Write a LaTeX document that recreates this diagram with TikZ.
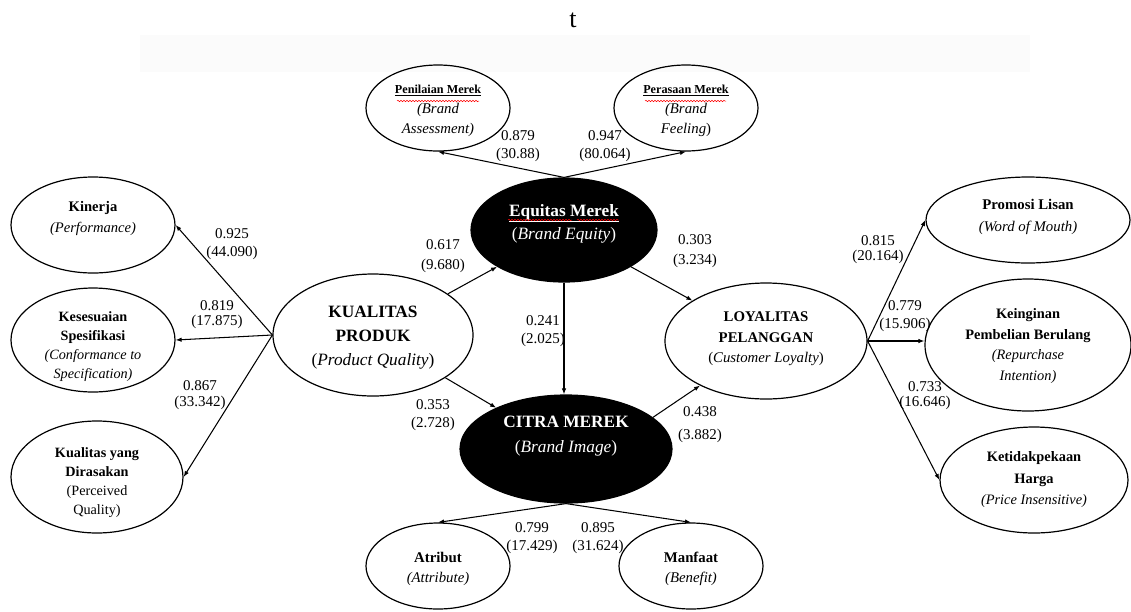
\documentclass[tikz,border=0pt]{standalone}
\usepackage{fontspec}
\setmainfont{Liberation Serif}
\usetikzlibrary{arrows.meta,shapes.geometric,decorations.pathmorphing}
\newcommand{\fs}[2]{\fontsize{#1}{#2}\selectfont}
\begin{document}
\begin{tikzpicture}[x=1pt,y=-1pt,
  oval/.style={ellipse,draw=black,line width=1.2pt,inner sep=0pt},
  dark/.style={oval,fill=black},
  txt/.style={align=center,inner sep=0pt},
  arr/.style={-{Latex[length=6pt,width=4.5pt]},line width=1.05pt},
  num/.style={align=center,inner sep=0pt,font=\fs{15}{18}},
  wavy/.style={red,line width=0.5pt,decorate,decoration={snake,amplitude=0.7pt,segment length=3pt}}]
\useasboundingbox (0,0) rectangle (1131,611);
\fill[black!1.5] (140,35) rectangle (1030,72);
\node[inner sep=0pt,font=\fs{26}{30}] (t) at (573,20) {t};

% top
\node[oval,minimum width=144,minimum height=86] (pen) at (438,108) {};
\node[txt,font=\fs{14.8}{20}] (pent) at ([yshift=-3]pen.center) {{\fs{12.2}{20}\textbf{\underline{Penilaian Merek}}}\\\textit{(Brand}\\\textit{Assessment)}};
\node[oval,minimum width=144,minimum height=86] (per) at (686,108) {};
\node[txt,font=\fs{14.8}{20}] (pert) at ([yshift=-3]per.center) {{\fs{12.2}{20}\textbf{\underline{Perasaan Merek}}}\\\textit{(Brand}\\\textit{Feeling})};

% center
\node[dark,minimum width=186,minimum height=104] (eq) at (564,230) {};
\node[txt,text=white,font=\fs{17.3}{23}] (eqt) at ([yshift=6.5]eq.center) {\textbf{\underline{Equitas Merek}}\\(\textit{Brand Equity})};
\node[dark,minimum width=212,minimum height=108] (ci) at (566,449) {};
\node[txt,text=white,font=\fs{17.3}{25}] (cit) at ([yshift=13]ci.center) {\textbf{CITRA MEREK}\\(\textit{Brand Image})};
\node[oval,minimum width=200,minimum height=122] (kp) at (373,335) {};
\node[txt,font=\fs{17.3}{24}] (kpt) at ([yshift=-3]kp.center) {\textbf{KUALITAS}\\\textbf{PRODUK}\\(\textit{Product Quality})};
\node[oval,minimum width=202,minimum height=116] (loy) at (766,341) {};
\node[txt,font=\fs{14.8}{20.5}] (loyt) at ([yshift=2]loy.center) {\textbf{LOYALITAS}\\\textbf{PELANGGAN}\\(\textit{Customer Loyalty})};

% left
\node[oval,minimum width=164,minimum height=96] (kin) at (93,225) {};
\node[txt,font=\fs{14.6}{21}] (kint) at ([yshift=6.5]kin.center) {\textbf{Kinerja}\\\textit{(Performance)}};
\node[oval,minimum width=164,minimum height=104] (kes) at (93,340) {};
\node[txt,font=\fs{14.2}{19}] (kest) at ([yshift=-7]kes.center) {\textbf{Kesesuaian}\\\textbf{Spesifikasi}\\\textit{(Conformance to}\\\textit{Specification)}};
\node[oval,minimum width=172,minimum height=112] (kyd) at (97,477) {};
\node[txt,font=\fs{14.2}{19}] (kydt) at ([yshift=-5.5]kyd.center) {\textbf{Kualitas yang}\\\textbf{Dirasakan}\\(Perceived\\Quality)};

% right
\node[oval,minimum width=204,minimum height=86] (pro) at (1028,220) {};
\node[txt,font=\fs{14.8}{22}] (prot) at ([yshift=3]pro.center) {\textbf{Promosi Lisan}\\\textit{(Word of Mouth)}};
\node[oval,minimum width=206,minimum height=132] (kei) at (1028,345) {};
\node[txt,font=\fs{14.4}{20.5}] (keit) at ([yshift=-1]kei.center) {\textbf{Keinginan}\\\textbf{Pembelian Berulang}\\\textit{(Repurchase}\\\textit{Intention)}};
\node[oval,minimum width=188,minimum height=106] (ket) at (1034,480) {};
\node[txt,font=\fs{14.4}{21.5}] (kett) at (ket) {\textbf{Ketidakpekaan}\\\textbf{Harga}\\\textit{(Price Insensitive)}};

% bottom
\node[oval,minimum width=144,minimum height=86] (atr) at (438,566) {};
\node[txt,font=\fs{14.8}{20}] (atrt) at ([yshift=-3]atr.center) {\textbf{Atribut}\\\textit{(Attribute)}};
\node[oval,minimum width=144,minimum height=86] (man) at (691,566) {};
\node[txt,font=\fs{14.8}{20}] (mant) at ([yshift=-3]man.center) {\textbf{Manfaat}\\\textit{(Benefit)}};

% spell-check underlines
\draw[wavy] (397,101) -- (479,101);
\draw[wavy] (645,101) -- (726,101);
\draw[wavy] (508,220) -- (572,220);
\draw[wavy] (577,220) -- (619,220);

% connectors
\draw[arr] (eq.north) -- (pen.south);
\draw[arr] (eq.north) -- (per.south);
\draw[arr] (kp) -- (eq);
\draw[arr] (kp) -- (ci);
\draw[arr] (eq.south) -- (eq.south |- ci.north);
\draw[arr] (eq) -- (loy);
\draw[arr] (ci.20) -- (loy);
\draw[arr] (kp.west) -- (kin.east);
\draw[arr] (kp.west) -- (kes.east);
\draw[arr] (kp.west) -- (kyd.east);
\draw[arr] (loy.east) -- (pro.west);
\draw[arr] (loy.east) -- (loy.east -| kei.west);
\draw[arr] (loy.east) -- (ket.west);
\draw[arr] (ci.south) -- (atr.north);
\draw[arr] (ci.south) -- (man.north);

% labels
\node[num] (l879) at (518,146) {0.879\\(30.88)};
\node[num] (l947) at (605,146) {0.947\\(80.064)};
\node[num] (l925) at (232,244) {0.925\\(44.090)};
\node[num,font=\fs{15}{15}] (l819) at (217,315) {0.819\\(17.875)};
\node[num,font=\fs{15}{16}] (l867) at (200,395) {0.867\\(33.342)};
\node[num,font=\fs{15}{20}] (l617) at (443,256) {0.617\\(9.680)};
\node[num,font=\fs{15}{20}] (l303) at (695,251) {0.303\\(3.234)};
\node[num] (l241) at (543,331) {0.241\\(2.025)};
\node[num] (l353) at (433,415) {0.353\\(2.728)};
\node[num,font=\fs{15}{23}] (l438) at (700,425) {0.438\\(3.882)};
\node[num,font=\fs{15}{15}] (l815) at (878,250) {0.815\\(20.164)};
\node[num] (l779) at (905,316) {0.779\\(15.906)};
\node[num,font=\fs{15}{15}] (l733) at (925,396) {0.733\\(16.646)};
\node[num] (l799) at (532,538) {0.799\\(17.429)};
\node[num] (l895) at (598,538) {0.895\\(31.624)};
\end{tikzpicture}
\end{document}
